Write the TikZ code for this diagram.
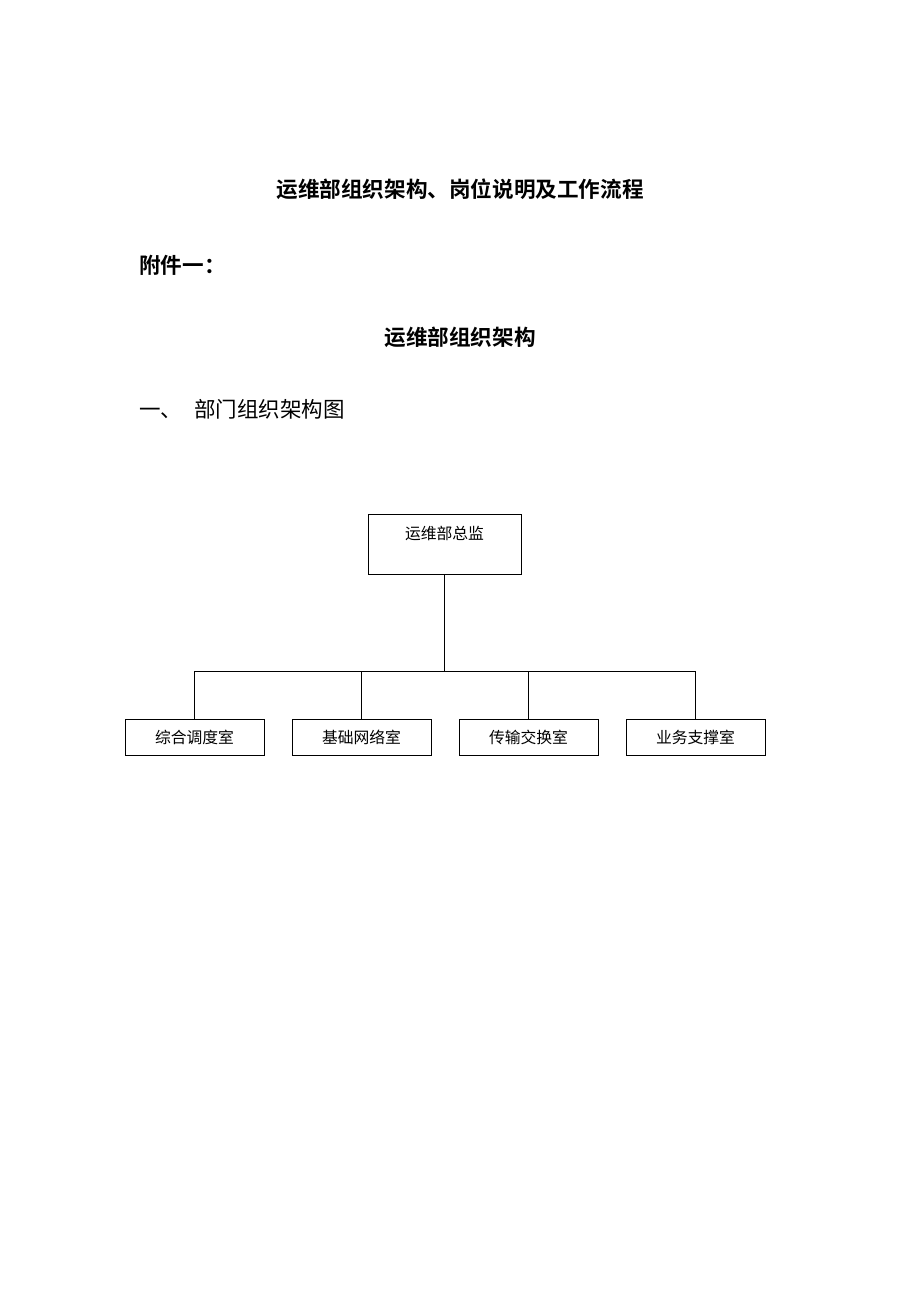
\documentclass[tikz,border=0pt]{standalone}
\usepackage{fontspec}
\newfontfamily\cjk{Noto Sans CJK SC}[BoldFont={Noto Sans CJK SC Bold}]
\begin{document}
\begin{tikzpicture}[x=1pt,y=-1pt,
  box/.style={draw,line width=0.9pt,inner sep=0pt,font=\cjk\fontsize{15.8}{16}\selectfont},
  conn/.style={line width=0.9pt},
  head/.style={inner sep=0pt,font=\cjk\bfseries\fontsize{21.6}{22}\selectfont},
  sub/.style={inner sep=0pt,font=\cjk\fontsize{21.5}{22}\selectfont}]
\useasboundingbox[fill=white] (0,0) rectangle (920,1302);
% headings
\node[head] (title) at (460,189) {运维部组织架构、岗位说明及工作流程};
\node[head,anchor=west] (annex) at (139,265) {附件一：};
\node[head] (sub1) at (460,337) {运维部组织架构};
\node[sub,anchor=west] (sec) at (139,409) {一、\hspace{12pt}部门组织架构图};
% top box
\node[box,minimum width=153,minimum height=60] (top) at (444.5,544) {};
\node[inner sep=0pt,font=\cjk\fontsize{15.8}{16}\selectfont] (toplabel) at (444.5,533) {运维部总监};
% bottom boxes
\node[box,minimum width=139,minimum height=36] (b1) at (194.5,737) {综合调度室};
\node[box,minimum width=139,minimum height=36] (b2) at (361.5,737) {基础网络室};
\node[box,minimum width=139,minimum height=36] (b3) at (528.5,737) {传输交换室};
\node[box,minimum width=139,minimum height=36] (b4) at (695.5,737) {业务支撑室};
% connectors
\coordinate (j) at (444.5,671);
\draw[conn] (top.south) -- (j);
\draw[conn] (b1.north) |- (j);
\draw[conn] (b4.north) |- (j);
\draw[conn] (b2.north) -- (b2.north |- j);
\draw[conn] (b3.north) -- (b3.north |- j);
\end{tikzpicture}
\end{document}
